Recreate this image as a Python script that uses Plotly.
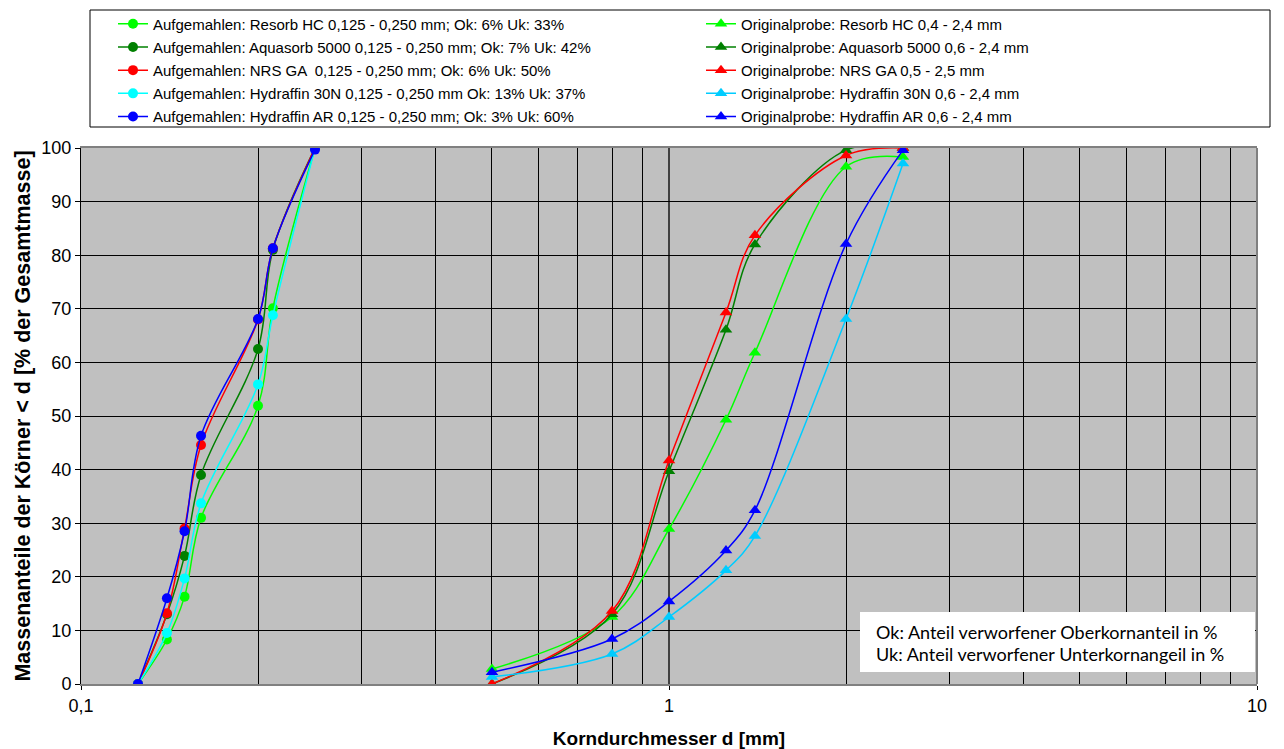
import plotly.graph_objects as go

# ---- data ----
x_auf = [0.125, 0.14, 0.15, 0.16, 0.2, 0.212, 0.25]
y_auf_resorb = [0, 8.3, 16.3, 31.0, 51.9, 70.1, 100]
y_auf_aquasorb = [0, 13.0, 23.9, 39.0, 62.5, 81.0, 100]
y_auf_nrs = [0, 13.2, 29.0, 44.6, 68.0, 81.3, 100]
y_auf_h30n = [0, 9.5, 19.7, 33.7, 55.9, 68.8, 100]
y_auf_har = [0, 16.0, 28.5, 46.3, 68.1, 81.3, 99.7]

x_orig = [0.5, 0.8, 1.0, 1.25, 1.4, 2.0, 2.5]
y_orig_resorb = [2.8, 12.5, 28.9, 49.3, 61.8, 96.5, 98.3]
y_orig_aquasorb = [0, 13.0, 39.7, 66.1, 82.0, 99.6, 100]
y_orig_nrs = [0, 13.6, 41.7, 69.3, 83.7, 98.6, 100]
y_orig_h30n = [1.3, 5.6, 12.5, 21.2, 27.6, 68.1, 97.1]
y_orig_har = [2.2, 8.4, 15.4, 24.9, 32.4, 82.1, 99.6]

names_auf = [
    "Aufgemahlen: Resorb HC 0,125 - 0,250 mm; Ok: 6% Uk: 33%",
    "Aufgemahlen: Aquasorb 5000 0,125 - 0,250 mm; Ok: 7% Uk: 42%",
    "Aufgemahlen: NRS GA  0,125 - 0,250 mm; Ok: 6% Uk: 50%",
    "Aufgemahlen: Hydraffin 30N 0,125 - 0,250 mm Ok: 13% Uk: 37%",
    "Aufgemahlen: Hydraffin AR 0,125 - 0,250 mm; Ok: 3% Uk: 60%",
]
names_orig = [
    "Originalprobe: Resorb HC 0,4 - 2,4 mm",
    "Originalprobe: Aquasorb 5000 0,6 - 2,4 mm",
    "Originalprobe: NRS GA 0,5 - 2,5 mm",
    "Originalprobe: Hydraffin 30N 0,6 - 2,4 mm",
    "Originalprobe: Hydraffin AR 0,6 - 2,4 mm",
]
colors_auf = ["#00FF00", "#008000", "#FF0000", "#00FFFF", "#0000FF"]
colors_orig = ["#00FF00", "#008000", "#FF0000", "#00CCFF", "#0000FF"]

x_ticks = [0.1, 1, 10]
x_ticktext = ["0,1", "1", "10"]

FONT = "Liberation Sans, Arial, sans-serif"

fig = go.Figure()
for i, (nm, yv, c) in enumerate(zip(names_auf,
                                     [y_auf_resorb, y_auf_aquasorb, y_auf_nrs, y_auf_h30n, y_auf_har],
                                     colors_auf)):
    fig.add_trace(go.Scatter(
        x=x_auf, y=yv, name=nm, mode="lines+markers",
        line=dict(color=c, width=1.5, shape="spline", smoothing=1),
        marker=dict(symbol="circle", size=10, color=c, line=dict(width=0)),
        legend="legend", legendgroup="a%d" % i,
    ))
for i, (nm, yv, c) in enumerate(zip(names_orig,
                                     [y_orig_resorb, y_orig_aquasorb, y_orig_nrs, y_orig_h30n, y_orig_har],
                                     colors_orig)):
    fig.add_trace(go.Scatter(
        x=x_orig, y=yv, name=nm, mode="lines+markers",
        line=dict(color=c, width=1.5, shape="spline", smoothing=1),
        marker=dict(symbol="triangle-up", size=11, color=c, line=dict(width=0)),
        legend="legend2", legendgroup="o%d" % i,
    ))

# page body has an 8px margin; figure sized so the plot area lands at
# screen x 81..1257, y 148..684
W, H = 1276, 741
L, R, T, B = 73, 27, 140, 65
PW, PH = W - L - R, H - T - B
SX0, SY0 = 81, 148  # plot area origin on screen


def px2x(px):
    return (px - SX0) / PW


def px2y(py):
    return (SY0 + PH - py) / PH


minor_vals = [k * 10 ** e for e in (-1, 0) for k in range(2, 10)]

leg_common = dict(
    font=dict(family=FONT, size=15, color="black"),
    bgcolor="rgba(0,0,0,0)", borderwidth=0,
    orientation="v", tracegroupgap=0.7,
    xanchor="left", yanchor="top",
    itemclick=False, itemdoubleclick=False,
)

fig.update_layout(
    width=W, height=H,
    margin=dict(l=L, r=R, t=T, b=B, autoexpand=False),
    paper_bgcolor="white",
    plot_bgcolor="#C0C0C0",
    font=dict(family=FONT, size=16, color="black"),
    showlegend=True,
    legend=dict(x=px2x(113), y=px2y(7.5), **leg_common),
    legend2=dict(x=px2x(701), y=px2y(7.5), **leg_common),
    xaxis=dict(
        type="log", range=[-1, 1],
        tickmode="array", tickvals=x_ticks, ticktext=x_ticktext,
        ticks="outside", ticklen=4, tickcolor="black",
        showgrid=True, gridcolor="#404040", gridwidth=1.5,
        minor=dict(tickmode="array", tickvals=minor_vals, showgrid=True,
                   gridcolor="black", gridwidth=1, ticks=""),
        showline=True, linecolor="#808080", linewidth=2, mirror=True,
        tickfont=dict(size=18),
        title=dict(text="<b>Korndurchmesser d [mm]</b>", font=dict(size=19), standoff=19),
        zeroline=False, automargin=False,
    ),
    yaxis=dict(
        range=[0, 100], dtick=10, tick0=0,
        ticks="outside", ticklen=5, tickcolor="black",
        showgrid=True, gridcolor="black", gridwidth=1,
        showline=True, linecolor="black", linewidth=1, mirror=False,
        tickfont=dict(size=18),
        title=dict(text="<b>Massenanteile der Körner &lt; d [% der Gesamtmasse]</b>",
                   font=dict(size=21.5), standoff=4),
        zeroline=False, automargin=False,
    ),
    shapes=[
        # legend frame
        dict(type="rect", xref="paper", yref="paper",
             x0=px2x(90), x1=px2x(1270), y0=px2y(127), y1=px2y(10),
             line=dict(color="black", width=1), fillcolor="rgba(0,0,0,0)", layer="above"),
        # right border of plot area
        dict(type="line", xref="paper", yref="paper", x0=1, x1=1, y0=0, y1=1,
             line=dict(color="#808080", width=2), layer="above"),
        # note box
        dict(type="rect", xref="paper", yref="paper",
             x0=px2x(860), x1=px2x(1255), y0=px2y(672), y1=px2y(612),
             line=dict(width=0), fillcolor="white", layer="above"),
    ],
    annotations=[
        dict(xref="paper", yref="paper", x=px2x(874), y=px2y(632), xanchor="left", yanchor="middle",
             text="Ok: Anteil verworfener Oberkornanteil in %", showarrow=False,
             font=dict(family="Lato, sans-serif", size=18, color="black")),
        dict(xref="paper", yref="paper", x=px2x(874), y=px2y(654), xanchor="left", yanchor="middle",
             text="Uk: Anteil verworfener Unterkornangeil in %", showarrow=False,
             font=dict(family="Lato, sans-serif", size=18, color="black")),
    ],
)

fig.write_html("out.html")
